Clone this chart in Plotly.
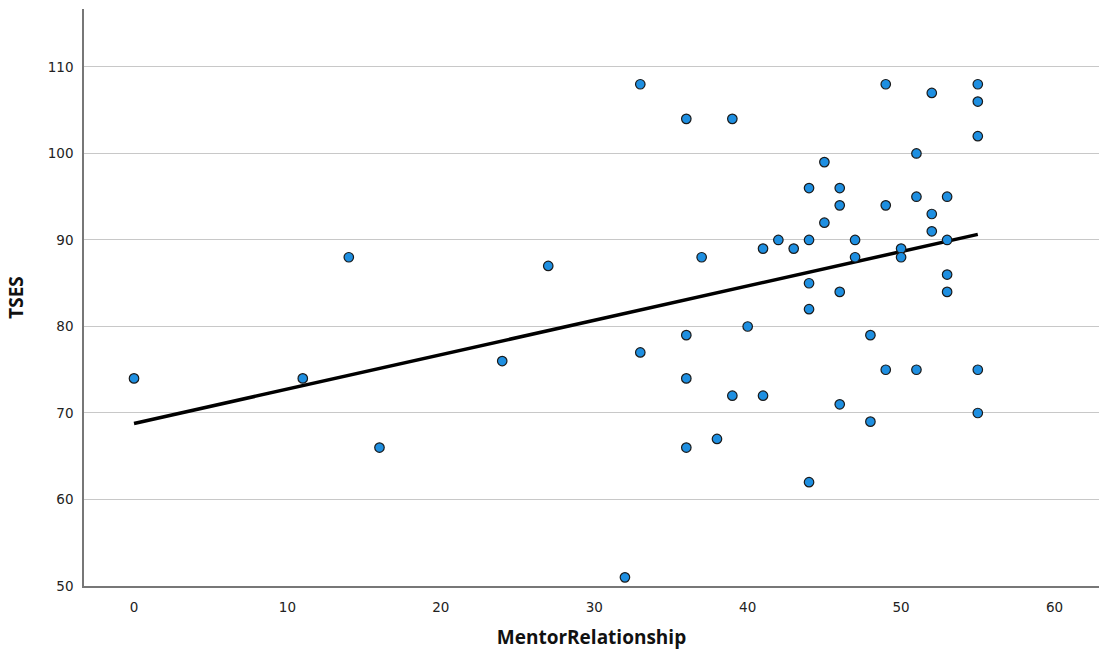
import numpy as np
import plotly.graph_objects as go

mentor = [0, 11, 14, 16, 24, 27, 32, 33, 33, 36, 36, 36, 36, 37, 38, 39, 39, 40, 41, 41,
          42, 43, 44, 44, 44, 44, 44, 45, 45, 46, 46, 46, 46, 47, 47, 48, 48, 49, 49, 49,
          50, 50, 51, 51, 51, 52, 52, 52, 53, 53, 53, 53, 55, 55, 55, 55, 55]
tses = [74, 74, 88, 66, 76, 87, 51, 108, 77, 104, 79, 74, 66, 88, 67, 104, 72, 80, 89, 72,
        90, 89, 96, 90, 85, 82, 62, 99, 92, 96, 94, 84, 71, 90, 88, 79, 69, 108, 94, 75,
        89, 88, 100, 95, 75, 107, 93, 91, 95, 90, 86, 84, 108, 106, 102, 75, 70]

x_ticks = [0, 10, 20, 30, 40, 50, 60]
y_ticks = [50, 60, 70, 80, 90, 100, 110]

slope, intercept = np.polyfit(mentor, tses, 1)
line_x = [min(mentor), max(mentor)]
line_y = [intercept + slope * v for v in line_x]

fig = go.Figure()
fig.add_trace(go.Scatter(
    x=line_x, y=line_y, mode="lines",
    line=dict(color="black", width=3.5), hoverinfo="skip", showlegend=False))
fig.add_trace(go.Scatter(
    x=mentor, y=tses, mode="markers",
    marker=dict(size=9.5, color="#1e8fe1", line=dict(color="#1a1a1a", width=1.2)),
    showlegend=False))

fig.update_layout(
    width=1099, height=651,
    margin=dict(l=84, r=0, t=9, b=65),
    paper_bgcolor="white", plot_bgcolor="white",
    font=dict(family="DejaVu Sans", size=13.5, color="#222"),
    xaxis=dict(
        range=[-3.26, 62.9], tickvals=x_ticks, showgrid=False, zeroline=False,
        showline=True, linecolor="#777", linewidth=1.5, ticks="", ticklabelstandoff=8,
        title=dict(text="<b>MentorRelationship</b>", font=dict(family="Open Sans", size=19, color="#111"), standoff=17),
    ),
    yaxis=dict(
        range=[50, 116.7], tickvals=y_ticks, showgrid=True, gridcolor="#c8c8c8", gridwidth=1.2,
        zeroline=False, showline=True, linecolor="#777", linewidth=1.5, ticks="", ticklabelstandoff=6,
        title=dict(text="<b>TSES</b>", font=dict(family="Open Sans", size=19, color="#111"), standoff=19),
    ),
)

fig.write_html(
    "out.html",
    config={"displayModeBar": False},
    post_script="document.body.style.margin='0';document.body.style.overflow='hidden';",
)
